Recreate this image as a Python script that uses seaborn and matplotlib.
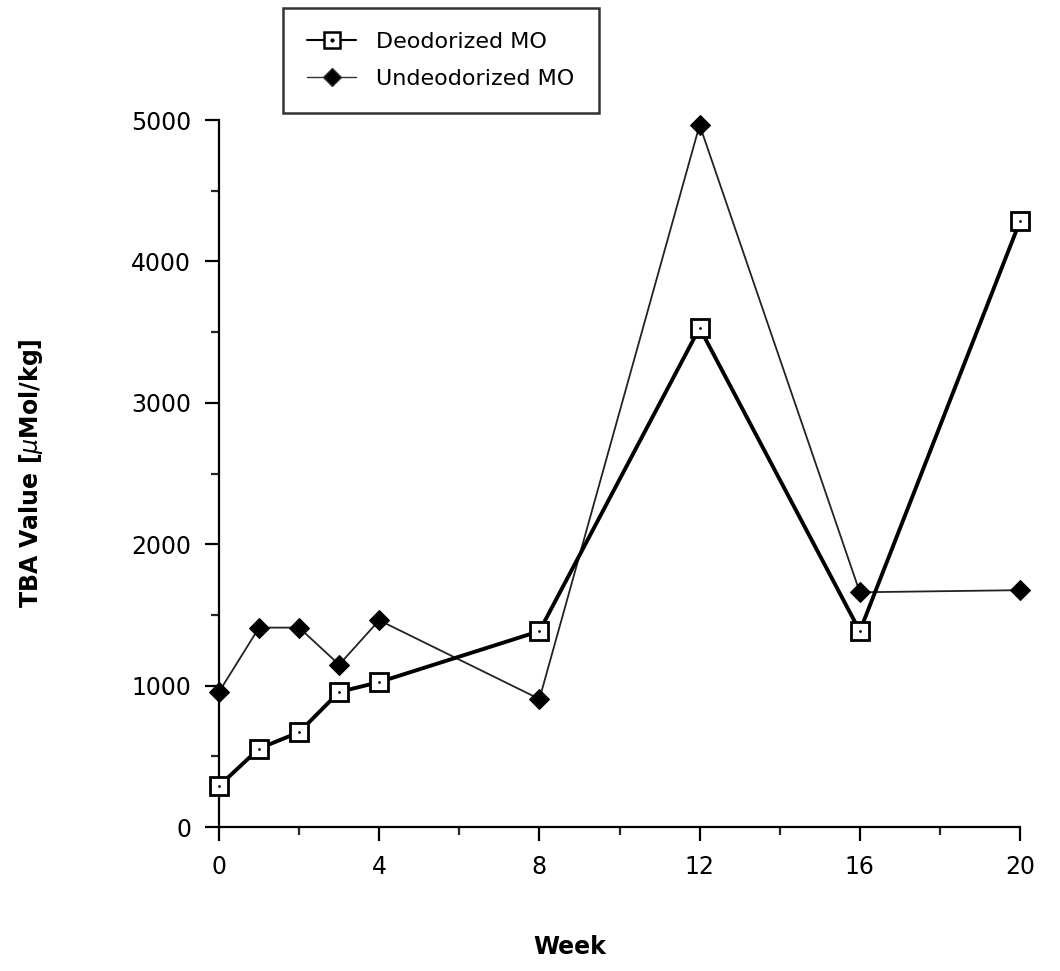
import matplotlib
matplotlib.use("Agg")
import matplotlib.pyplot as plt
import seaborn as sns
import pandas as pd
from matplotlib.lines import Line2D
from matplotlib.legend_handler import HandlerTuple
from matplotlib.ticker import MultipleLocator

weeks = [0, 1, 2, 3, 4, 8, 12, 16, 20]
deodorized = [290, 555, 670, 955, 1025, 1385, 3530, 1385, 4285]
undeodorized = [955, 1410, 1410, 1148, 1462, 905, 4965, 1660, 1675]
series_names = ["Deodorized MO", "Undeodorized MO"]
x_ticks = [0, 4, 8, 12, 16, 20]
y_ticks = [0, 1000, 2000, 3000, 4000, 5000]

sns.set_theme(style="ticks")
plt.rcParams['font.family'] = ['DejaVu Sans']
plt.rcParams['text.color'] = 'black'
plt.rcParams['axes.labelcolor'] = 'black'

fig = plt.figure(figsize=(10.6, 9.71), dpi=100)
ax = fig.add_axes([0.2066, 0.1483, 0.7557, 0.7281])

df_d = pd.DataFrame({"week": weeks, "value": deodorized})
df_u = pd.DataFrame({"week": weeks, "value": undeodorized})

sns.lineplot(data=df_u, x="week", y="value", ax=ax, color="#222222", lw=1.3,
             marker="D", markersize=10, markerfacecolor="black",
             markeredgecolor="black", clip_on=False, zorder=3)
sns.lineplot(data=df_d, x="week", y="value", ax=ax, color="black", lw=2.8,
             marker="s", markersize=13, markerfacecolor="white",
             markeredgecolor="black", markeredgewidth=2.0, clip_on=False, zorder=4)
sns.scatterplot(data=df_d, x="week", y="value", ax=ax, color="black", s=4,
                marker="o", linewidth=0, clip_on=False, zorder=5)

ax.set_xlim(0, 20)
ax.set_ylim(0, 5000)
ax.set_xticks(x_ticks)
ax.set_yticks(y_ticks)
ax.xaxis.set_minor_locator(MultipleLocator(2))
ax.yaxis.set_minor_locator(MultipleLocator(500))
ax.tick_params(axis="both", which="major", direction="out", length=10, width=1.6,
               labelsize=17, colors="black", pad=10)
ax.tick_params(axis="both", which="minor", direction="out", length=6, width=1.6)
for s in ["top", "right"]:
    ax.spines[s].set_visible(False)
for s in ["left", "bottom"]:
    ax.spines[s].set_linewidth(1.6)
    ax.spines[s].set_color("black")

ax.set_xlabel("Week", fontsize=17, fontweight="bold")
ax.xaxis.set_label_coords(0.438, -0.153)
ax.set_ylabel("TBA Value [$\\mu$Mol/kg]", fontsize=17, fontweight="bold", labelpad=62)

h_d = (Line2D([], [], color="black", lw=1.5, ls="-"),
       Line2D([], [], color="black", lw=0, marker="s", markersize=11,
              markerfacecolor="white", markeredgewidth=1.8),
       Line2D([], [], color="black", lw=0, marker="o", markersize=2))
h_u = Line2D([], [], color="#333333", lw=1.0, marker="D", markersize=9,
             markerfacecolor="black")
leg = fig.legend([h_d, h_u], series_names, loc="upper left",
                 bbox_to_anchor=(0.267, 0.992), fontsize=16, frameon=True,
                 fancybox=False, edgecolor="black", handlelength=2.2,
                 handletextpad=0.9, borderpad=1.1, labelspacing=0.75,
                 borderaxespad=0.0, labelcolor="black",
                 handler_map={tuple: HandlerTuple(ndivide=1)})
leg.get_frame().set_linewidth(1.8)
leg.get_frame().set_facecolor("white")

fig.savefig("out.png", dpi=100, facecolor="white")
